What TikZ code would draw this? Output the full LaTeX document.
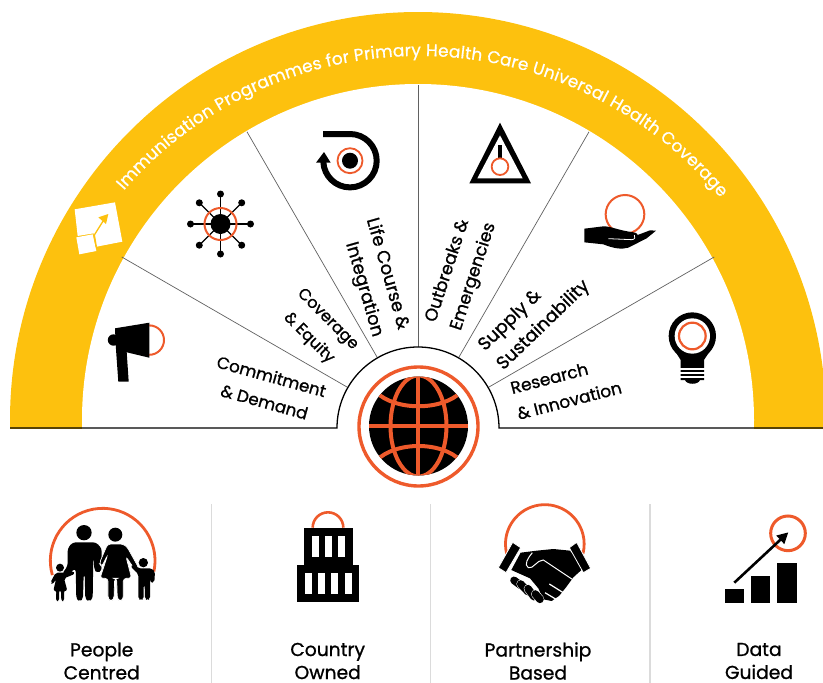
\documentclass[tikz,border=0pt]{standalone}
\usepackage{fontspec}
\usetikzlibrary{decorations.text,arrows.meta,calc}
\newfontfamily\popf{Poppins}[FakeBold=1.0]
\newfontfamily\popw{Poppins}[FakeBold=0.7]
\definecolor{bandc}{HTML}{FDC10E}
\definecolor{orgc}{HTML}{EE5A2B}
\tikzset{
  zm/.style 2 args={shift={(#1,#2)},scale=0.33333},
  org/.style={draw=orgc,line width=#1},
  spoke/.style={draw=black!62,line width=0.7pt},
  sepline/.style={draw=black!14,line width=1.1pt},
  lbl/.style={inner sep=0pt,font=\popf\fontsize{#1}{26.5}\selectfont,text=black},
  captxt/.style={inner sep=0pt,align=center,font=\popf\fontsize{18.7}{23}\selectfont,text=black},
  wl/.style={draw=white,line width=#1},
}
\begin{document}
\begin{tikzpicture}[x=1pt,y=-1pt]
\useasboundingbox (0,0) rectangle (823,683);
% band
\begin{scope}
  \clip (0,0) rectangle (823,428);
  \fill[bandc] (418,420) circle[radius=408];
  \fill[white] (418,420) circle[radius=336];
\end{scope}
% spokes
\coordinate (hub) at (418,428);
\foreach \a/\r in {-150/342,-120/342,-90/343,-60/342,-30/342}{
  \draw[spoke] ($(hub)+(\a:81)$) -- ($(hub)+(\a:\r)$);
}
% base line and hub arc
\draw[black,line width=1.3pt] (10,428) -- (337,428) arc[start angle=-180,end angle=0,radius=81] -- (823,428);
% globe
\fill[black] (418.5,426) circle[radius=49.5];
\begin{scope}
  \clip (418.5,426) circle[radius=49.5];
  \draw[orgc,line width=4pt] (369,425.7) -- (468,425.7) (418.4,376) -- (418.4,476);
  \draw[orgc,line width=4pt] (418.5,426) ellipse[x radius=28,y radius=50.5];
  \draw[orgc,line width=4pt] (376,392) .. controls (395,411) and (442,411) .. (461,392);
  \draw[orgc,line width=4pt] (376,461) .. controls (395,441) and (442,441) .. (461,461);
\end{scope}
\draw[org=3.4pt] (418.5,426.5) circle[radius=59.5];
% band text
\path[decorate,decoration={text along path,text align={fit to path},
  text={|\popw\fontsize{17}{20}\selectfont\color{white}|Immunisation Programmes for Primary Health Care Universal Health Coverage}}]
  (419,447) ++(-139:391) arc[start angle=-139,end angle=-39.6,radius=391];
% band icon
\begin{scope}[zm={0}{120}]
  \fill[white] (224,268) -- (345,247) -- (367,365) -- (290,380) -- (281,340) -- (233,348) -- cycle;
  \fill[white] (229,352) -- (278,343) -- (289,393) -- (238,403) -- cycle;
  \draw[bandc,line width=1.3pt] (283,345) -- (310,302);
  \draw[bandc,line width=1.3pt] (283,345) -- (289,380);
  \fill[bandc] (325,282) -- (295,292) -- (318,312) -- cycle;
\end{scope}
% megaphone
\draw[org=2pt] (149.3,325.4) arc[start angle=-90,end angle=90,radius=14.7];
\fill[black] (113.5,340) circle[radius=5.7];
\fill[black] (115,328.3) -- (149.3,322.7) -- (149.3,357.7) -- (126.7,352.3) -- (128.7,381.7) -- (118.3,381.7) -- (115.7,345) -- cycle;
% coverage icon
\foreach \a in {0,45,...,315}{
  \draw[black,line width=1.2pt] (220.5,224) -- ++(\a:30);
  \fill[black] (220.5,224) ++(\a:30) circle[radius=3.5];
}
\fill[white] (220.5,224) circle[radius=16];
\foreach \a in {0,45,...,315}{\draw[black,line width=1.2pt] (220.5,224) -- ++(\a:16);}
\fill[black] (220.5,224) circle[radius=10];
\draw[org=2pt] (220.5,224) circle[radius=16];
% life course icon
\fill[black] (350,160.7) circle[radius=8];
\draw[org=1.8pt] (350,160.7) circle[radius=12.5];
\draw[black,line width=6pt] (323,134) -- (350,134) arc[start angle=-90,end angle=178,radius=26.7];
\fill[black] (316,162.7) -- (330.7,162.7) -- (324,152) -- cycle;
% triangle icon
\begin{scope}[zm={400}{100}]
  \fill[black] (300,68) -- (393,250) -- (208,250) -- cycle;
  \fill[white] (300,106) -- (368,235) -- (232,235) -- cycle;
  \fill[black] (293,135) rectangle (307,178);
  \fill[white] (300,200) circle[radius=25];
  \draw[org=1.8pt] (300,200) circle[radius=25];
\end{scope}
% hand icon
\begin{scope}[zm={570}{185}]
  \draw[org=2pt] (165,88) circle[radius=58];
  \fill[black] (43,131) -- (100,124) .. controls (125,124) and (140,135) .. (190,142) .. controls (200,143) and (203,148) .. (203,150) -- (240,136) -- (258,137) -- (230,160) -- (175,188) .. controls (155,193) and (135,192) .. (100,178) -- (43,172) -- cycle;
  \draw[white,line width=0.8pt] (115,161) -- (185,164) .. controls (195,164) and (197,156) .. (193,150);
\end{scope}
% bulb icon
\begin{scope}[zm={660}{305}]
  \fill[black] (97,93) circle[radius=71];
  \fill[black] (40,130) -- (62,165) -- (62,225) -- (75,225) .. controls (80,240) and (115,240) .. (120,225) -- (132,225) -- (132,165) -- (155,130) -- cycle;
  \fill[white] (97,93) circle[radius=53];
  \draw[org=2.2pt] (97,93) circle[radius=40];
  \foreach \y in {192,204,216}{\draw[white,line width=1.1pt] (58,\y) -- (136,\y);}
\end{scope}
% sector labels
\node[lbl=16.7,align=center,rotate=-15.5] (l1) at (268,389) {Commitment\\\& Demand};
\node[lbl=16,align=center,rotate=-45] (l2) at (318,329) {Coverage\\\& Equity};
\node[lbl=17.8,align=right,anchor=east,rotate=-74] (l3) at (390,333) {Life Course \&\\Integration};
\node[lbl=17.3,align=left,anchor=west,rotate=72] (l4) at (444,326) {Outbreaks \&\\Emergencies};
\node[lbl=18,align=left,anchor=west,rotate=44] (l5) at (491,358) {Supply \&\\Sustainability};
\node[lbl=17,align=left,anchor=west,rotate=14.5] (l6) at (514,401) {Research\\\& Innovation};
% separators
\draw[sepline] (211.7,504) -- (211.7,683);
\draw[sepline] (430.5,504) -- (430.5,683);
\draw[sepline] (650,504) -- (650,683);
% family
\begin{scope}[zm={40}{500}]
  \draw[org=2.8pt] (188,182) ++(-196:157) arc[start angle=-196,end angle=12,radius=157];
  \fill[black] (132,98) circle[radius=23];
  \fill[black] (226,104) circle[radius=21];
  \fill[black] (60,203) circle[radius=12];
  \fill[black] (310,188) circle[radius=14];
  \fill[black,rounded corners=3pt] (83,145) -- (98,127) -- (168,127) -- (185,145) -- (185,212) -- (172,219) -- (163,210) -- (160,165) -- (158,297) -- (146,304) -- (136,297) -- (134,222) -- (131,222) -- (129,297) -- (119,304) -- (109,297) -- (107,205) -- (75,229) -- (66,222) -- (83,198) -- cycle;
  \filldraw[black,draw=white,line width=0.7pt,rounded corners=3pt] (203,132) -- (250,132) -- (262,142) -- (297,205) -- (288,214) -- (258,170) -- (275,235) -- (250,235) -- (250,297) -- (241,304) -- (232,297) -- (230,235) -- (224,235) -- (222,297) -- (213,304) -- (204,297) -- (204,235) -- (180,235) -- (203,165) -- (185,200) -- (178,190) -- cycle;
  \fill[black,rounded corners=2pt] (47,218) -- (73,218) -- (100,212) -- (104,222) -- (72,235) -- (82,272) -- (72,272) -- (72,303) -- (64,303) -- (63,272) -- (57,272) -- (57,303) -- (48,303) -- (49,272) -- (40,272) -- (48,238) -- (38,253) -- (31,248) -- cycle;
  \fill[black,rounded corners=2pt] (295,205) -- (335,205) -- (345,215) -- (343,247) -- (333,249) -- (331,228) -- (330,297) -- (323,301) -- (315,297) -- (314,255) -- (311,255) -- (311,297) -- (303,301) -- (295,297) -- (295,222) -- (272,200) -- (280,192) -- cycle;
\end{scope}
% building
\begin{scope}[zm={30}{490}]
  \draw[org=2.6pt] (848,113) arc[start angle=-180,end angle=0,radius=46];
  \fill[black] (821,113) rectangle (968,226);
  \fill[black] (802,225) rectangle (986,335);
  \foreach \x in {845,885,924}{\fill[white] (\x,137) rectangle ++(21,63);}
  \foreach \x in {824,864,904,945}{\fill[white] (\x,248) rectangle ++(21,63);}
\end{scope}
% handshake
\begin{scope}[zm={490}{500}]
  \draw[org=2.8pt] (164.5,132) ++(-194:118) arc[start angle=-194,end angle=14,radius=118];
  \fill[black] (92,158) -- (140,152) -- (190,147) -- (240,152) -- (282,203) -- (250,232) -- (228,262) -- (208,287) -- (185,303) -- (160,298) -- (145,265) -- (120,235) -- (64,210) -- cycle;
  \filldraw[black,draw=white,line width=0.8pt] (68,127) -- (92,143) -- (48,218) -- (25,203) -- cycle;
  \filldraw[black,draw=white,line width=0.8pt] (260,127) -- (238,143) -- (280,218) -- (302,205) -- cycle;
  \draw[wl=1pt] (127,158) .. controls (115,172) and (100,195) .. (115,203) .. controls (130,208) and (140,180) .. (160,180) -- (250,240);
  \draw[wl=1.2pt] (178,252) -- (226,282);
  \draw[wl=1.2pt] (165,278) -- (205,302);
  \foreach \a/\b/\c/\d in {72/241/92/256, 92/252/114/275, 114/266/132/290, 136/282/150/298}{
    \draw[white,line width=8.6pt,line cap=round] (\a,\b) -- (\c,\d);
    \draw[black,line width=7.6pt,line cap=round] (\a,\b) -- (\c,\d);
  }
\end{scope}
% chart
\begin{scope}[zm={470}{490}]
  \draw[org=3pt] (954,130) circle[radius=52];
  \fill[black] (764,297) rectangle (822,340);
  \fill[black] (843,258) rectangle (901,340);
  \fill[black] (922,218) rectangle (980,340);
  \draw[black,line width=2.6pt,-{Triangle[length=11pt,width=11pt]}] (793,278) -- (955,127);
\end{scope}
% captions
\node[captxt] (c1) at (101.7,661) {People\\Centred};
\node[captxt] (c2) at (327.7,661) {Country\\Owned};
\node[captxt] (c3) at (538,661) {Partnership\\Based};
\node[captxt] (c4) at (759,661) {Data\\Guided};
\end{tikzpicture}
\end{document}
